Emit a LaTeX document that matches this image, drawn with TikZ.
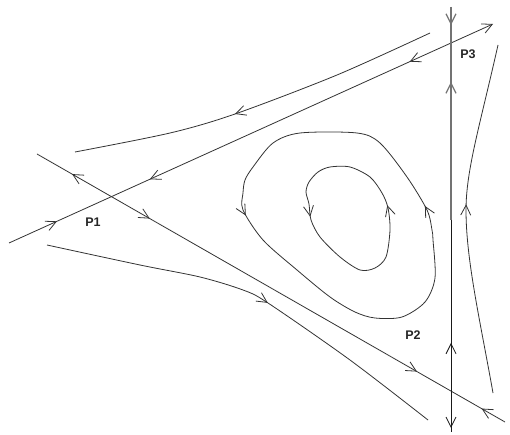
\documentclass[tikz,border=0pt]{standalone}
\usepackage{fontspec}
\setmainfont{Liberation Sans}
\usetikzlibrary{arrows.meta,decorations.markings}
\tikzset{
  traj/.style={line width=0.8pt, draw=black!80, line join=round},
  barbtip/.tip={Straight Barb[length=10pt,width=10pt]},
  fwd/.style={postaction={decorate,decoration={markings,mark=at position #1 with {\arrow{barbtip}}}}},
  bwd/.style={postaction={decorate,decoration={markings,mark=at position #1 with {\arrowreversed{barbtip}}}}},
  lab/.style={font=\fontsize{12.5}{12.5}\selectfont\bfseries, text=black!85, inner sep=0pt}
}
\begin{document}
\begin{tikzpicture}[x=1pt,y=-1pt]
\useasboundingbox[fill=white] (0,0) rectangle (510,435);
% end points
\coordinate (a1) at (9,243);
\coordinate (a2) at (493,24);
\coordinate (b1) at (37,154);
\coordinate (b2) at (505,422);
\coordinate (v1) at (451,7);
\coordinate (vm) at (451,220);
\coordinate (v2) at (451,432);
\coordinate (r1) at (498,45);
\coordinate (rm) at (466,210);
\coordinate (r2) at (493,393);
% separatrix through P1 and P3
\draw[traj, -{barbtip}, fwd=0.099, bwd=0.291, bwd=0.828] (a1) -- (a2);
% separatrix through P1 and P2
\draw[traj, bwd=0.075, fwd=0.241, fwd=0.812, bwd=0.95] (b1) -- (b2);
% vertical line through P3 and P2
\draw[traj, draw=black!55, line width=1.2pt, fwd=0.085, bwd=0.352] (v1) -- (vm);
\draw[traj, draw=black!90, bwd=0.58, fwd=0.981] (vm) -- (v2);
% upper hyperbolic trajectory
\draw[traj, bwd=0.438] plot[smooth] coordinates {(75,152) (170,133) (235,114) (337,75) (430,33)};
% lower hyperbolic trajectory
\draw[traj, fwd=0.536] plot[smooth] coordinates {(47,245) (140,265) (200,277) (243,290) (268,303) (350,360) (428,420)};
% right trajectory
\draw[traj, bwd=0.46] (r1) .. controls (480,125) and (466,170) .. (rm) .. controls (466,260) and (480,320) .. (r2);
% outer closed orbit
\draw[traj, fwd=0.14, fwd=0.682] plot[smooth cycle, tension=0.5] coordinates {(300,133) (273,143) (253,167) (245,180) (243,193) (243,210) (263,240) (297,270) (330,297) (355,312) (375,318) (402,317) (425,302) (435,278) (433,240) (432,230) (427,210) (407,177) (380,143) (357,133)};
% inner closed orbit
\draw[traj, fwd=0.21, fwd=0.744] plot[smooth cycle, tension=0.5] coordinates {(350,167) (330,167) (318,172) (309,182) (306,192) (309,204) (311,220) (320,237) (340,257) (360,270) (375,268) (386,257) (390,230) (388,208) (382,193) (370,177)};
% labels
\node[lab] (p1) at (93,222) {P1};
\node[lab] (p2) at (413,335) {P2};
\node[lab] (p3) at (468,54) {P3};
\end{tikzpicture}
\end{document}
